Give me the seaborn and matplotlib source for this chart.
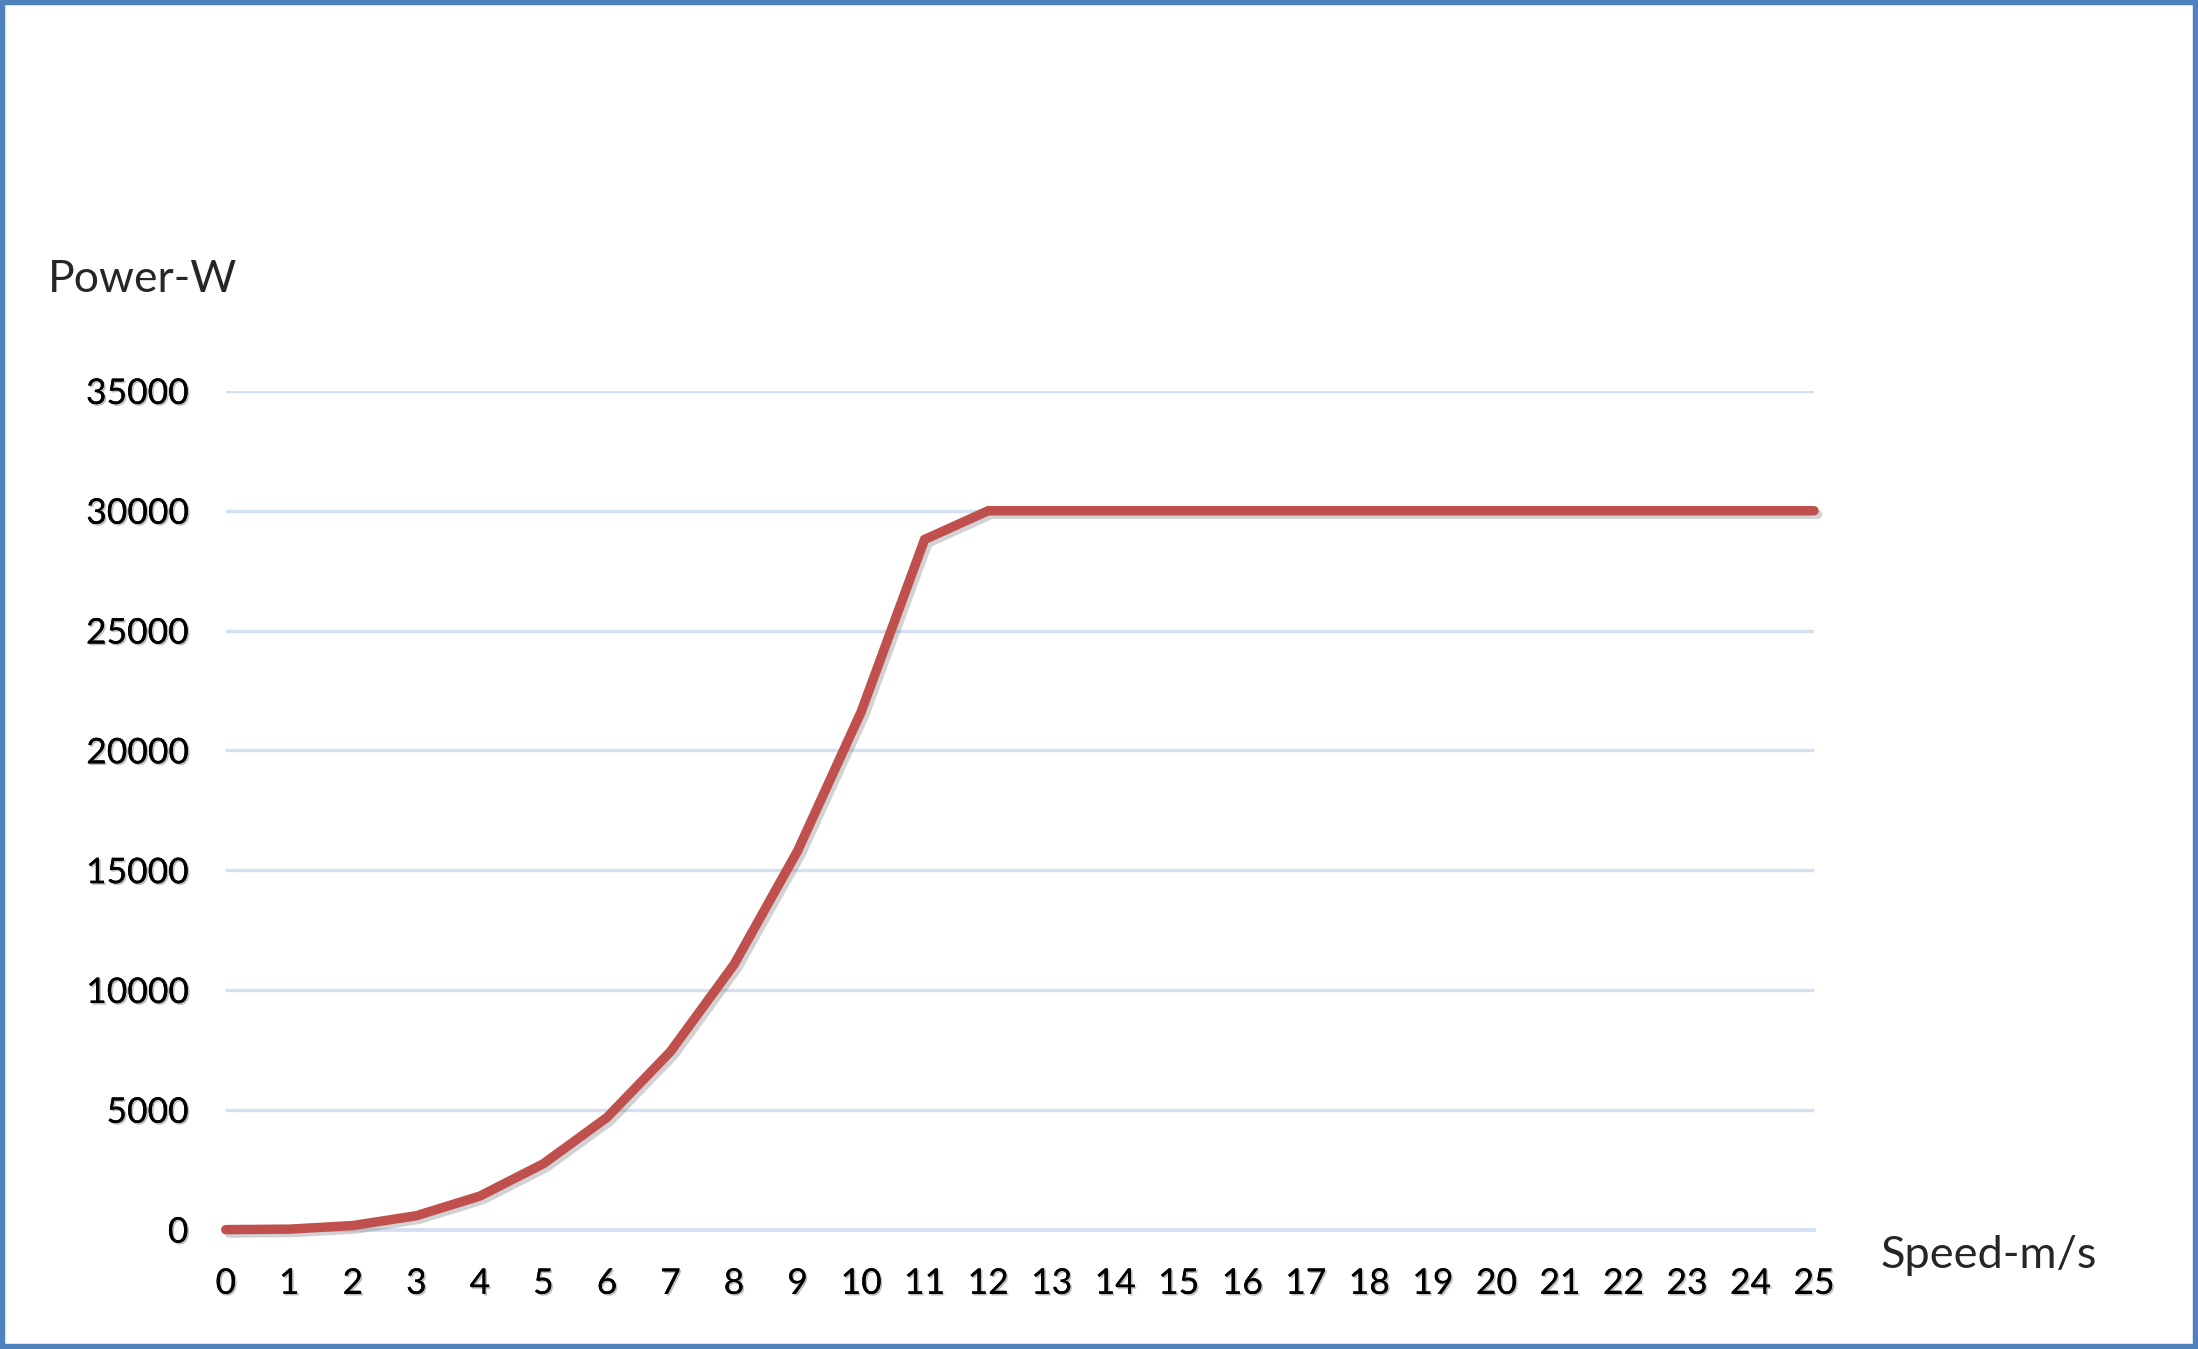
import matplotlib
matplotlib.use("Agg")
import matplotlib.pyplot as plt
import matplotlib.patheffects as pe
from matplotlib.patches import Rectangle
import seaborn as sns
import pandas as pd

# power curve (speed in m/s, power in W)
speed = list(range(0, 26))
power = [0, 20, 170, 580, 1400, 2750, 4680, 7430, 11060, 15800, 21600, 28800,
         30000, 30000, 30000, 30000, 30000, 30000, 30000, 30000, 30000, 30000,
         30000, 30000, 30000, 30000]
y_ticks = [0, 5000, 10000, 15000, 20000, 25000, 30000, 35000]

df = pd.DataFrame({"speed": speed, "power": power})

sns.set_theme(style="white")
plt.rcParams["font.family"] = ["Lato", "DejaVu Sans"]

grid_col = "#D3E0F1"
line_col = "#C0504D"

fig = plt.figure(figsize=(21.98, 13.49), dpi=100)
ax = fig.add_axes([0.1027, 0.0885, 0.7226, 0.6217])

sns.lineplot(data=df, x="speed", y="power", ax=ax, color=line_col,
             linewidth=6.8, solid_joinstyle="miter", clip_on=False, zorder=5,
             path_effects=[pe.SimpleLineShadow(offset=(2.5, -2.5), shadow_color="gray", alpha=0.35),
                           pe.Normal()])

ax.set_xlim(0, 25)
ax.set_ylim(0, 35000)
ax.set_xticks(speed)
ax.set_yticks(y_ticks)
ax.set_xlabel("")
ax.set_ylabel("")

ax.yaxis.grid(True, color=grid_col, linewidth=2.4)
ax.xaxis.grid(False)
for s in ["top", "right", "left"]:
    ax.spines[s].set_visible(False)
ax.spines["bottom"].set_color(grid_col)
ax.spines["bottom"].set_linewidth(2.8)

shadow = [pe.withSimplePatchShadow(offset=(1.2, -1.2), shadow_rgbFace="gray", alpha=0.5), pe.Normal()]
ax.tick_params(axis="y", length=0, pad=27, labelsize=25.5)
ax.tick_params(axis="x", direction="out", length=9.5, width=2.8, color=grid_col,
               pad=18, labelsize=25.5)
for lab in ax.get_xticklabels() + ax.get_yticklabels():
    lab.set_path_effects(shadow)
    lab.set_color("black")

fig.text(48 / 2198, 1 - 292 / 1349, "Power-W", fontsize=32, va="baseline", ha="left")
fig.text(1881 / 2198, 1 - 1268 / 1349, "Speed-m/s", fontsize=32.5, va="baseline", ha="left")

fig.patches.append(Rectangle((0, 0), 1, 1, transform=fig.transFigure, fill=False,
                             edgecolor="#4F81BD", linewidth=7.5))

fig.savefig("out.png", dpi=100, facecolor="white")
